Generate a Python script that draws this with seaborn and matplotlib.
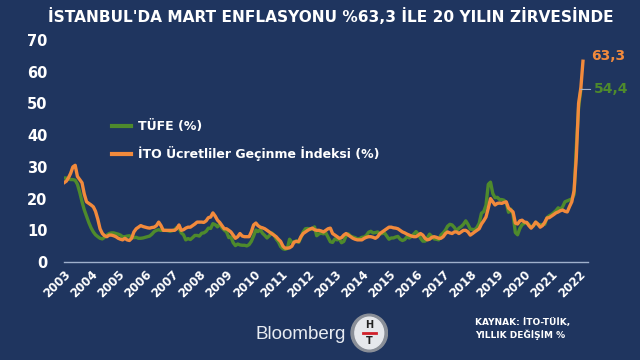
import numpy as np
import pandas as pd
import matplotlib
matplotlib.use("Agg")
import matplotlib.pyplot as plt
from matplotlib.patches import Ellipse
import seaborn as sns

# yearly % change, monthly, Jan 2003 onwards
tufe = [
    26.5, 26.5, 26.2, 26.0, 26.0, 25.8, 24.5, 22.0, 19.0, 16.5, 14.5, 12.5,
    10.8, 9.5, 8.6, 8.0, 7.5, 7.3, 7.8, 8.5, 9.0, 9.2, 9.2, 9.0,
    8.8, 8.5, 8.0, 8.0, 8.2, 8.3, 7.8, 7.7, 7.8, 7.5, 7.5, 7.6,
    7.8, 8.0, 8.2, 8.8, 9.6, 10.0, 10.2, 10.0, 10.0, 10.0, 9.9, 9.7,
    9.9, 10.2, 10.9, 10.7, 9.2, 8.6, 7.0, 7.4, 7.1, 7.7, 8.4, 8.4,
    8.2, 9.1, 9.2, 9.7, 10.7, 10.6, 12.1, 11.8, 11.1, 12.0, 10.8, 10.1,
    9.5, 7.7, 7.9, 6.1, 5.2, 5.7, 5.4, 5.3, 5.3, 5.1, 5.5, 6.5,
    8.2, 10.1, 9.6, 10.2, 9.1, 8.4, 7.6, 8.3, 9.2, 8.6, 7.3, 6.4,
    4.9, 4.2, 4.0, 4.3, 7.2, 6.2, 6.3, 6.7, 6.2, 7.7, 9.5, 10.5,
    10.6, 10.4, 10.4, 11.1, 8.3, 8.9, 9.1, 8.9, 9.2, 7.8, 6.4, 6.2,
    7.3, 7.0, 7.3, 6.1, 6.5, 8.3, 8.9, 8.2, 7.9, 7.7, 7.3, 7.4,
    7.8, 7.9, 8.4, 9.4, 9.7, 9.2, 9.3, 9.5, 8.9, 9.0, 9.2, 8.2,
    7.2, 7.6, 7.6, 7.9, 8.1, 7.2, 6.8, 7.1, 8.0, 7.6, 8.1, 8.8,
    9.6, 8.8, 7.5, 6.6, 6.6, 7.6, 8.8, 8.1, 7.3, 7.2, 7.0, 8.5,
    9.2, 10.1, 11.3, 11.9, 11.7, 10.9, 9.8, 10.7, 11.2, 11.9, 13.0, 11.9,
    10.4, 10.3, 10.2, 10.9, 12.2, 15.4, 15.9, 17.9, 24.5, 25.2, 21.6, 20.3,
    20.4, 19.7, 19.7, 19.5, 18.7, 15.7, 16.7, 15.0, 9.3, 8.6, 10.6, 11.8,
    12.2, 12.4, 11.9, 10.9, 11.4, 12.6, 11.8, 11.8, 11.8, 11.9, 14.0, 14.6,
    15.0, 15.6, 16.2, 17.1, 16.6, 17.5, 19.0, 19.3, 19.6, 19.9, 21.3, 36.1,
    48.7, 54.4,
]

ito = [
    25.0, 25.5, 26.5, 28.0, 30.0, 30.5, 27.0, 26.0, 25.0, 21.5, 19.0, 18.5,
    18.0, 17.4, 16.0, 13.5, 10.5, 9.0, 8.3, 8.0, 8.5, 8.5, 8.3, 8.0,
    7.5, 7.2, 7.0, 7.5, 7.0, 6.8, 7.5, 9.5, 10.5, 11.0, 11.5, 11.2,
    11.0, 10.8, 10.7, 10.9, 11.0, 11.5, 12.6, 11.5, 10.0, 10.0, 10.0, 10.0,
    10.0, 10.0, 10.5, 11.7, 10.0, 10.2, 10.7, 11.0, 11.0, 11.5, 12.0, 12.6,
    12.6, 12.6, 12.5, 13.0, 14.0, 14.2, 15.5, 14.5, 13.2, 12.5, 11.5, 10.5,
    10.5, 10.0, 9.5, 8.5, 7.5, 8.0, 9.0, 8.2, 8.0, 8.0, 8.0, 9.5,
    11.7, 12.3, 11.5, 11.0, 10.8, 10.5, 10.0, 9.5, 9.0, 8.5, 8.0, 7.2,
    6.5, 5.0, 4.4, 4.4, 4.5, 5.0, 6.3, 6.5, 6.5, 8.0, 9.0, 9.5,
    10.0, 10.4, 10.7, 10.2, 10.0, 10.0, 9.8, 9.5, 10.0, 10.5, 10.7, 9.0,
    8.5, 8.0, 7.5, 7.7, 8.5, 9.0, 8.5, 8.0, 7.5, 7.2, 7.0, 7.0,
    7.0, 7.5, 7.8, 8.0, 8.0, 7.8, 7.5, 8.0, 9.0, 9.5, 10.0, 10.5,
    11.0, 11.0, 10.8, 10.7, 10.5, 10.0, 9.5, 9.2, 8.8, 8.5, 8.2, 8.0,
    8.0, 8.5, 9.0, 8.5, 7.5, 7.0, 7.2, 7.8, 8.0, 7.8, 7.5, 7.5,
    8.0, 9.0, 9.5, 9.2, 9.0, 9.5, 9.5, 9.0, 9.5, 10.0, 10.0, 9.5,
    8.5, 9.0, 9.5, 10.0, 10.5, 12.0, 13.0, 14.2, 17.0, 20.0, 19.0, 18.0,
    18.5, 18.6, 18.5, 18.8, 19.0, 17.0, 16.4, 15.8, 12.3, 12.0, 13.0, 13.2,
    12.6, 12.5, 11.5, 10.7, 11.5, 12.6, 12.0, 11.0, 11.5, 12.5, 13.9, 14.0,
    14.5, 15.0, 15.5, 15.8, 16.2, 16.4, 16.0, 15.8, 17.5, 19.0, 22.5, 33.0,
    50.0, 55.0, 63.3,
]

series_names = ["TÜFE (%)", "İTO Ücretliler Geçinme İndeksi (%)"]
year_labels = [str(y) for y in range(2003, 2023)]

bg = "#1f355f"
green = "#4e8a2c"
orange = "#f28a3c"

dates_tufe = pd.date_range("2003-01-01", periods=len(tufe), freq="MS")
dates_ito = pd.date_range("2003-01-01", periods=len(ito), freq="MS")
df = pd.concat([
    pd.DataFrame({"tarih": dates_tufe, "deger": tufe, "seri": series_names[0]}),
    pd.DataFrame({"tarih": dates_ito, "deger": ito, "seri": series_names[1]}),
])

fig = plt.figure(figsize=(6.4, 3.6), dpi=100)
fig.patch.set_facecolor(bg)
ax = fig.add_axes([0.1, 0.272, 0.819, 0.617])
ax.set_facecolor(bg)

sns.lineplot(data=df, x="tarih", y="deger", hue="seri", hue_order=series_names,
             palette=[green, orange], linewidth=2.4, ax=ax)

ax.set_ylim(0, 70)
ax.set_yticks(range(0, 71, 10))
ax.set_xlim(pd.Timestamp("2003-01-01"), pd.Timestamp("2022-05-10"))
ax.set_xticks([pd.Timestamp(f"{y}-01-01") for y in year_labels])
ax.set_xticklabels(year_labels, rotation=45, ha="right", rotation_mode="anchor")
ax.set_xlabel("")
ax.set_ylabel("")

for s in ["top", "right", "left"]:
    ax.spines[s].set_visible(False)
ax.spines["bottom"].set_color("#9fb0cc")
ax.spines["bottom"].set_linewidth(1.0)
ax.tick_params(axis="both", length=0, colors="white")
ax.tick_params(axis="y", pad=12)
ax.tick_params(axis="x", pad=4)
for lab in ax.get_yticklabels():
    lab.set_fontweight("bold")
    lab.set_fontsize(10.5)
for lab in ax.get_xticklabels():
    lab.set_fontweight("bold")
    lab.set_fontsize(8.5)

leg = ax.legend(loc="upper left", bbox_to_anchor=(0.07, 0.69), frameon=False,
                handlelength=1.5, handletextpad=0.6, labelspacing=1.05,
                prop={"weight": "bold", "size": 9})
for t in leg.get_texts():
    t.set_color("white")
for h in leg.get_lines():
    h.set_linewidth(3)

# end labels
ax.annotate("63,3", xy=(dates_ito[-1], ito[-1]), xytext=(6, 4),
            textcoords="offset points", color=orange, fontweight="bold",
            fontsize=10, va="center", ha="left")
ax.annotate("54,4", xy=(dates_tufe[-1], tufe[-1]), xytext=(9, 0),
            textcoords="offset points", color=green, fontweight="bold",
            fontsize=10, va="center", ha="left",
            arrowprops=dict(arrowstyle="-", color="#9fb0cc", lw=0.8,
                            shrinkA=0, shrinkB=0))

fig.text(0.517, 0.955, "İSTANBUL'DA MART ENFLASYONU %63,3 İLE 20 YILIN ZİRVESİNDE",
         color="white", fontweight="bold", fontsize=11.1, ha="center", va="center")

# footer
fig.text(0.47, 0.07, "Bloomberg", color="#e8ecf2", fontsize=13.5,
         ha="center", va="center", family="Liberation Sans")
logo = fig.add_axes([0.547, 0.02, 0.06, 0.11])
logo.set_xlim(-1, 1)
logo.set_ylim(-1, 1)
logo.axis("off")
logo.add_patch(Ellipse((0, 0), 1.9, 1.9, color="#8a8f98"))
logo.add_patch(Ellipse((0, 0), 1.5, 1.6, color="#e6e8ec"))
logo.text(0, 0.38, "H", ha="center", va="center", fontsize=7, fontweight="bold", color="#222222")
logo.plot([-0.35, 0.35], [0, 0], color="#d0202a", lw=2)
logo.text(0, -0.42, "T", ha="center", va="center", fontsize=7, fontweight="bold", color="#222222")

fig.text(0.742, 0.087, "KAYNAK: İTO-TÜİK,\nYILLIK DEĞİŞİM %", color="white",
         fontweight="bold", fontsize=6.5, ha="left", va="center", linespacing=1.3)

fig.savefig("out.png", dpi=100, facecolor=bg)
